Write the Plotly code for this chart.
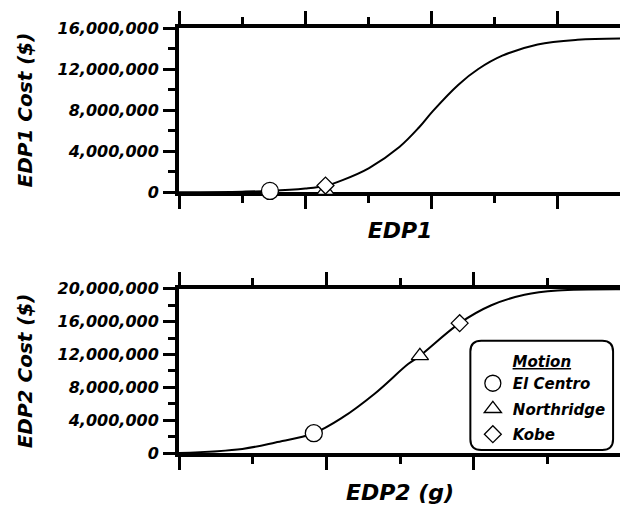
import plotly.graph_objects as go

# ---------------- data ----------------
edp1_x = [0, 1.0, 1.44, 2.0, 2.32, 2.6, 3.01, 3.49, 3.80, 4.02, 4.43, 4.74, 5.12, 5.68, 6.31, 7.0]
edp1_cost = [0.0, 0.05e6, 0.12e6, 0.35e6, 0.62e6, 1.2e6, 2.35e6, 4.4e6, 6.3e6, 7.9e6,
             10.5e6, 12.0e6, 13.3e6, 14.4e6, 14.85e6, 14.97e6]

edp2_x = [0, 0.86, 1.31, 1.83, 2.21, 2.66, 3.11, 3.27, 3.81, 4.24, 4.69, 5.14, 6.0]
edp2_cost = [0.0, 0.5e6, 1.29e6, 2.41e6, 4.27e6, 7.26e6, 10.84e6, 11.84e6, 15.82e6,
             18.0e6, 19.28e6, 19.8e6, 19.95e6]

motions = ["El Centro", "Northridge", "Kobe"]
motion_symbols = ["circle", "triangle-up", "diamond"]
motion_sizes = [17, 15, 13]
edp1_motion_x = [1.44, 2.32, 2.32]
edp1_motion_cost = [0.12e6, 0.15e6, 0.64e6]
edp2_motion_x = [1.83, 3.27, 3.81]
edp2_motion_cost = [2.41e6, 11.84e6, 15.82e6]

# ---------------- styling ----------------
FONT = "DejaVu Sans"
tick_font = dict(family=FONT, size=16, color="black", weight="bold", style="italic")
ytitle_font = dict(family=FONT, size=20, color="black", weight="bold", style="italic")
xtitle_font = dict(family=FONT, size=22, color="black", weight="bold", style="italic")

# page body has an 8px margin; lay the figure out in window pixels minus that offset
OFF = 8
W, H = 620, 500
L_PX, R_PX = 179 - OFF, 625 - OFF      # plot left / right in figure px
T_PX, B_PX = 18 - OFF, 453 - OFF       # plot top / bottom in figure px
pw = R_PX - L_PX
ph = B_PX - T_PX


def px(x):
    return (x - OFF - L_PX) / pw


def py(y):
    return (B_PX - (y - OFF)) / ph


fig = go.Figure()

fig.add_trace(go.Scatter(x=edp1_x, y=edp1_cost, mode="lines", line=dict(color="black", width=2, shape="spline"),
                         xaxis="x", yaxis="y", showlegend=False, cliponaxis=False))
fig.add_trace(go.Scatter(x=edp2_x, y=edp2_cost, mode="lines", line=dict(color="black", width=2, shape="spline"),
                         xaxis="x2", yaxis="y2", showlegend=False, cliponaxis=False))

for i, name in enumerate(motions):
    mk = dict(symbol=motion_symbols[i], size=motion_sizes[i], color="white",
              line=dict(color="black", width=1.3))
    fig.add_trace(go.Scatter(x=[edp1_motion_x[i]], y=[edp1_motion_cost[i]], mode="markers",
                             marker=mk, xaxis="x", yaxis="y", showlegend=False, cliponaxis=False))
    fig.add_trace(go.Scatter(x=[edp2_motion_x[i]], y=[edp2_motion_cost[i]], mode="markers",
                             marker=mk, xaxis="x2", yaxis="y2", name=name, showlegend=True,
                             legendgroup=name, cliponaxis=False))

common_x = dict(showticklabels=False, ticks="outside", ticklen=13, tickwidth=3, tickcolor="black",
                showline=True, linewidth=4, linecolor="black", mirror="ticks", showgrid=False,
                zeroline=False, layer="below traces", tick0=0, dtick=2,
                minor=dict(dtick=1, ticks="outside", ticklen=7, tickwidth=3, tickcolor="black",
                           showgrid=False))
common_y = dict(ticks="outside", ticklen=12, tickwidth=3, tickcolor="black", tickformat=",d",
                showline=True, linewidth=4, linecolor="black", mirror=True, showgrid=False,
                zeroline=False, layer="below traces", tickfont=tick_font, tick0=0,
                ticklabelstandoff=1)
minor_y = dict(dtick=2e6, ticks="outside", ticklen=7, tickwidth=3, tickcolor="black", showgrid=False)

fig.update_layout(
    width=W, height=H,
    margin=dict(l=L_PX, r=W - R_PX, t=T_PX, b=H - B_PX),
    paper_bgcolor="white", plot_bgcolor="white",
    xaxis=dict(common_x, domain=[0, 1], anchor="y", range=[0, 7],
               title=dict(text="EDP1", font=xtitle_font, standoff=15)),
    yaxis=dict(common_y, domain=[py(186), 1], anchor="x", range=[0, 16e6], dtick=4e6,
               minor=minor_y,
               title=dict(text="EDP1 Cost ($)", font=ytitle_font, standoff=21)),
    xaxis2=dict(common_x, domain=[0, 1], anchor="y2", range=[0, 6],
                title=dict(text="EDP2 (g)", font=xtitle_font, standoff=17)),
    yaxis2=dict(common_y, domain=[0, py(285)], anchor="x2", range=[0, 20e6], dtick=4e6,
                minor=minor_y,
                title=dict(text="EDP2 Cost ($)", font=ytitle_font, standoff=21)),
    legend=dict(x=px(475.5), y=py(345), xanchor="left", yanchor="top",
                bgcolor="rgba(0,0,0,0)", borderwidth=0, tracegroupgap=3,
                font=dict(family=FONT, size=15, color="black", weight="bold", style="italic"),
                title=dict(text="<u>Motion</u>", side="top center",
                           font=dict(family=FONT, size=15, color="black", weight="bold",
                                     style="italic"))),
)

# rounded legend frame
x0, x1 = px(473), px(617)
y0, y1 = py(450), py(338)
rx, ry = 11 / pw, 11 / ph
path = (f"M {x0+rx},{y1} L {x1-rx},{y1} Q {x1},{y1} {x1},{y1-ry} L {x1},{y0+ry} "
        f"Q {x1},{y0} {x1-rx},{y0} L {x0+rx},{y0} Q {x0},{y0} {x0},{y0+ry} "
        f"L {x0},{y1-ry} Q {x0},{y1} {x0+rx},{y1} Z")
fig.add_shape(type="path", path=path, xref="paper", yref="paper",
              line=dict(color="black", width=2), fillcolor="rgba(0,0,0,0)", layer="above")

fig.write_html("out.html")
